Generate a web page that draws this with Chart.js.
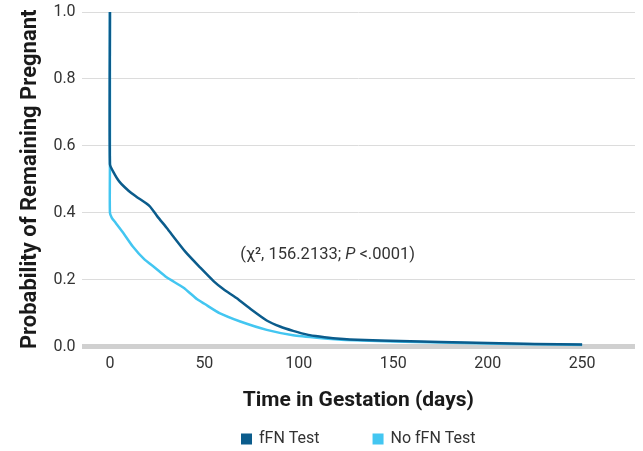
<!DOCTYPE html>
<html>
<head>
<meta charset="utf-8">
<script src="https://cdn.jsdelivr.net/npm/chart.js@4"></script>
<style>
  html, body { margin: 0; padding: 0; background: #fff; }
  #wrap { width: 643px; height: 451px; }
</style>
</head>
<body>
<div id="wrap"><canvas id="chart" width="643" height="451"></canvas></div>
<script>
const FONT = 'Roboto, "Noto Sans", sans-serif';

// fFN Test
const ffnDays = [0, 0, 2, 5, 10, 14, 21, 25, 30, 40, 48, 55, 60, 67, 75, 83, 90, 97, 105, 111, 120, 127, 143, 175, 200, 225, 250];
const ffnProb = [1.0, 0.545, 0.52, 0.493, 0.465, 0.448, 0.42, 0.39, 0.355, 0.283, 0.235, 0.195, 0.172, 0.145, 0.11, 0.078, 0.06, 0.047, 0.035, 0.03, 0.024, 0.021, 0.018, 0.014, 0.011, 0.008, 0.006];

// No fFN Test
const noFfnDays = [0, 0, 0, 1, 3, 7, 12, 18, 24, 30, 39, 46, 50, 58, 69, 83, 97, 111, 125, 150, 175, 200, 225, 250];
const noFfnProb = [1.0, 0.545, 0.4, 0.385, 0.37, 0.34, 0.3, 0.262, 0.235, 0.207, 0.176, 0.142, 0.128, 0.1, 0.075, 0.05, 0.034, 0.026, 0.02, 0.015, 0.012, 0.009, 0.007, 0.005];

const seriesNames = ['fFN Test', 'No fFN Test'];
const seriesColors = ['#0b5c8c', '#43c6f1'];
const statText = ['(χ², 156.2133; ', 'P', ' <.0001)'];

const toPoints = (xs, ys) => xs.map((x, i) => ({ x: x, y: ys[i] }));

// annotation text, anchored in data units
const statLabel = {
  id: 'statLabel',
  afterDatasetsDraw(chart) {
    const { ctx, scales } = chart;
    let x = scales.x.getPixelForValue(69);
    const y = scales.y.getPixelForValue(0.273);
    ctx.save();
    ctx.fillStyle = '#333';
    ctx.textBaseline = 'middle';
    ctx.textAlign = 'left';
    statText.forEach((part, i) => {
      ctx.font = (i === 1 ? 'italic ' : '') + '16.5px ' + FONT;
      ctx.fillText(part, x, y);
      x += ctx.measureText(part).width;
    });
    ctx.restore();
  }
};

// legend with wide item spacing
const bottomLegend = {
  id: 'bottomLegend',
  afterDraw(chart) {
    const { ctx, chartArea } = chart;
    ctx.save();
    ctx.font = '16px ' + FONT;
    ctx.textBaseline = 'middle';
    const box = 11, gap = 7, spacing = 53;
    const widths = seriesNames.map(n => box + gap + ctx.measureText(n).width);
    const total = widths.reduce((a, b) => a + b, 0) + spacing;
    let x = (chartArea.left + chartArea.right) / 2 - total / 2;
    const y = 439;
    seriesNames.forEach((n, i) => {
      ctx.fillStyle = seriesColors[i];
      ctx.fillRect(x, y - box / 2, box, box);
      ctx.fillStyle = '#333';
      ctx.fillText(n, x + box + gap, y);
      x += widths[i] + spacing;
    });
    ctx.restore();
  }
};

const ctx = document.getElementById('chart').getContext('2d');
new Chart(ctx, {
  type: 'line',
  data: {
    datasets: [{
      label: seriesNames[1],
      data: toPoints(noFfnDays, noFfnProb),
      borderColor: seriesColors[1],
      backgroundColor: seriesColors[1],
      borderWidth: 2.5,
      pointRadius: 0,
      tension: 0.2,
      fill: false,
      order: 2
    }, {
      label: seriesNames[0],
      data: toPoints(ffnDays, ffnProb),
      borderColor: seriesColors[0],
      backgroundColor: seriesColors[0],
      borderWidth: 2.5,
      pointRadius: 0,
      tension: 0.2,
      fill: false,
      order: 1
    }]
  },
  options: {
    responsive: false,
    animation: false,
    layout: { padding: { top: 0, right: 8, bottom: 38, left: 17 } },
    plugins: {
      legend: { display: false },
      tooltip: { enabled: false }
    },
    scales: {
      x: {
        type: 'linear',
        min: -15,
        max: 278,
        border: { display: false },
        grid: { display: false, drawTicks: false },
        ticks: {
          stepSize: 50,
          includeBounds: false,
          color: '#333',
          font: { family: FONT, size: 16 },
          padding: 8
        },
        title: {
          display: true,
          text: 'Time in Gestation (days)',
          color: '#1a1a1a',
          font: { family: FONT, size: 21, weight: 'bold' },
          padding: { top: 6, bottom: 0 }
        }
      },
      y: {
        min: 0,
        max: 1,
        border: { display: false },
        afterFit: s => { s.paddingTop = 12; },
        grid: {
          drawTicks: false,
          color: c => c.tick.value === 0 ? '#d0d0d0' : '#dcdcdc',
          lineWidth: c => c.tick.value === 0 ? 5 : 1
        },
        ticks: {
          stepSize: 0.2,
          color: '#333',
          font: { family: FONT, size: 16 },
          padding: 6,
          callback: v => v.toFixed(1)
        },
        title: {
          display: true,
          text: 'Probability of Remaining Pregnant',
          color: '#1a1a1a',
          font: { family: FONT, size: 22, weight: 'bold' },
          padding: { top: 0, bottom: 4 }
        }
      }
    }
  },
  plugins: [statLabel, bottomLegend]
});
</script>
</body>
</html>
